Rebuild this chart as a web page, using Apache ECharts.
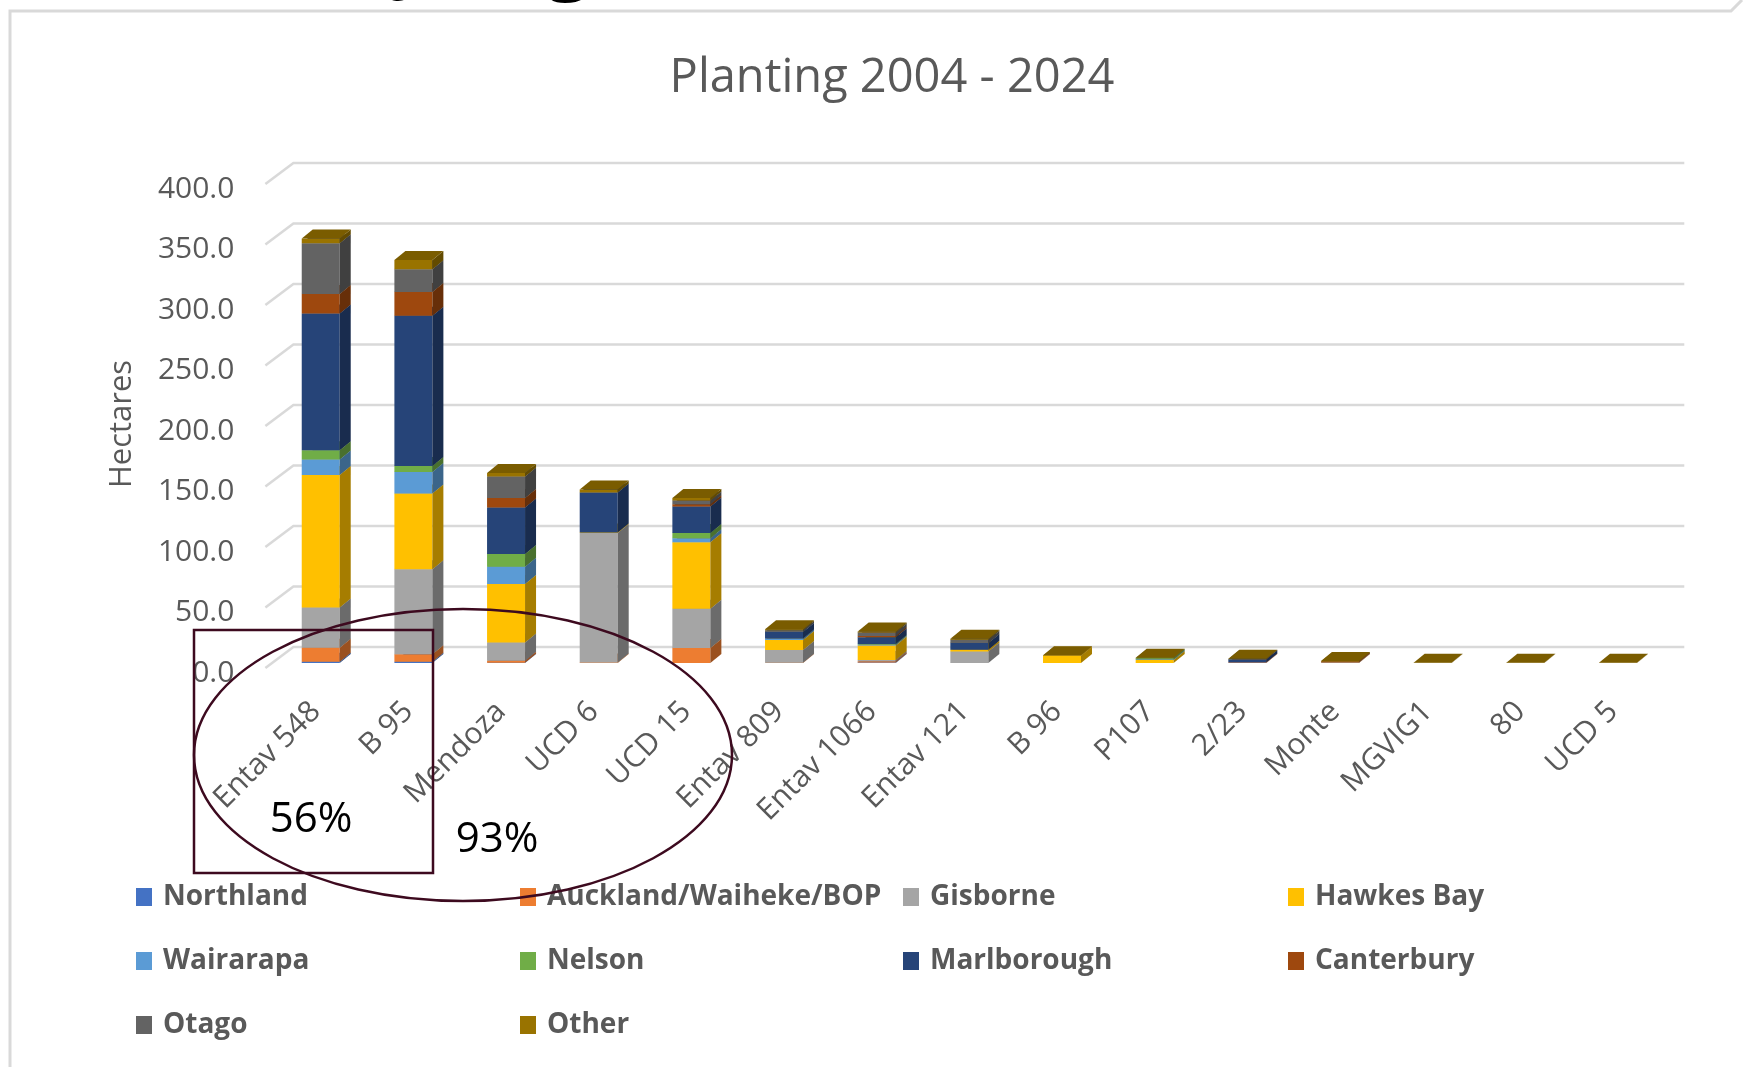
<!DOCTYPE html>
<html>
<head>
<meta charset="utf-8">
<title>Planting 2004 - 2024</title>
<script src="https://cdn.jsdelivr.net/npm/echarts@6/dist/echarts.min.js"></script>
<style>
  html, body { margin: 0; padding: 0; background: #ffffff; }
  #chart { width: 1749px; height: 1067px; }
</style>
</head>
<body>
<div id="chart"></div>
<script>
// Clones planted 2004 - 2024, hectares by region
const categories = ['Entav 548', 'B 95', 'Mendoza', 'UCD 6', 'UCD 15', 'Entav 809', 'Entav 1066',
  'Entav 121', 'B 96', 'P107', '2/23', 'Monte', 'MGVIG1', '80', 'UCD 5'];

const regionNames = ['Northland', 'Auckland/Waiheke/BOP', 'Gisborne', 'Hawkes Bay', 'Wairarapa',
  'Nelson', 'Marlborough', 'Canterbury', 'Otago', 'Other'];

const northland   = [1.0, 1.0, 0.3, 0, 0, 0, 0.5, 0, 0, 0, 0, 0, 0, 0, 0];
const auckland    = [11.6, 6.3, 1.5, 0.5, 12.4, 0.3, 1.0, 0, 0, 0, 0.5, 0.3, 0, 0, 0];
const gisborne    = [33.3, 70.2, 15.2, 106.9, 32.5, 10.5, 1.0, 9.6, 0, 0, 0, 0.3, 0, 0, 0];
const hawkesBay   = [109.4, 62.5, 48.2, 0.5, 54.8, 8.3, 12.0, 1.4, 6.0, 2.5, 0, 0, 0, 0, 0];
const wairarapa   = [12.9, 17.9, 14.3, 0, 3.3, 1.1, 0.8, 0, 0, 0.6, 0, 0, 0, 0, 0];
const nelson      = [7.7, 5.0, 10.5, 0, 4.4, 0, 0.5, 0, 0, 0.8, 0, 0, 0, 0, 0];
const marlborough = [113.0, 124.0, 38.6, 33.0, 22.0, 5.5, 5.5, 5.5, 0, 0, 2.5, 0, 0, 0, 0];
const canterbury  = [16.0, 19.8, 7.7, 0, 1.7, 0, 1.1, 0, 0, 0, 0, 0.6, 0, 0, 0];
const otago       = [41.9, 18.7, 17.9, 0, 3.3, 1.4, 2.8, 2.8, 0, 0, 0, 0, 0, 0, 0];
const other       = [4.0, 7.7, 2.8, 2.5, 1.9, 0.8, 0.8, 0.8, 0.5, 0.5, 0.5, 0.5, 0.3, 0.3, 0.3];

const yTicks = [0, 50, 100, 150, 200, 250, 300, 350, 400];

const regionValues = [northland, auckland, gisborne, hawkesBay, wairarapa,
  nelson, marlborough, canterbury, otago, other];

const regionColors = ['#4472C4', '#ED7D31', '#A5A5A5', '#FFC000', '#5B9BD5',
  '#70AD47', '#264478', '#9E480E', '#636363', '#997300'];

const TEXT = '#595959';
const FONT = '"Open Sans", "Noto Sans", sans-serif';

// pseudo-3D column geometry (pixels)
const DEPTH_X = 11, DEPTH_Y = -9;   // column depth
const FRONT_Y = -5;                 // column front face sits a little behind the floor edge
const WALL_X = 28, WALL_Y = -21;    // depth of the back wall

function shade(hex, k) {
  const n = parseInt(hex.slice(1), 16);
  const r = Math.round(((n >> 16) & 255) * k);
  const g = Math.round(((n >> 8) & 255) * k);
  const b = Math.round((n & 255) * k);
  return 'rgb(' + r + ',' + g + ',' + b + ')';
}

function columnRenderer(color) {
  const sideColor = shade(color, 0.65);
  const topColor = shade(color, 0.8);
  return function (params, api) {
    const idx = api.value(0);
    const base = api.value(1);
    const end = api.value(2);
    if (!(end > base)) return;
    const p0 = api.coord([idx, base]);
    const p1 = api.coord([idx, end]);
    const w = api.size([1, 0])[0] * 0.41;
    const xl = p0[0] - w / 2, xr = p0[0] + w / 2;
    const yb = p0[1] + FRONT_Y, yt = p1[1] + FRONT_Y;
    return {
      type: 'group',
      children: [
        { type: 'rect', shape: { x: xl, y: yt, width: w, height: yb - yt },
          style: { fill: color } },
        { type: 'polygon',
          shape: { points: [[xr, yb], [xr, yt], [xr + DEPTH_X, yt + DEPTH_Y], [xr + DEPTH_X, yb + DEPTH_Y]] },
          style: { fill: sideColor } },
        { type: 'polygon',
          shape: { points: [[xl, yt], [xr, yt], [xr + DEPTH_X, yt + DEPTH_Y], [xl + DEPTH_X, yt + DEPTH_Y]] },
          style: { fill: topColor } }
      ]
    };
  };
}

// stack the regions per clone
const running = categories.map(() => 0);
const columnSeries = regionNames.map((name, s) => {
  const data = categories.map((c, i) => {
    const base = running[i];
    running[i] += regionValues[s][i];
    return [i, base, running[i]];
  });
  return {
    name: name,
    type: 'custom',
    z: 3,
    itemStyle: { color: regionColors[s] },
    encode: { x: 0, y: [1, 2] },
    renderItem: columnRenderer(regionColors[s]),
    data: data
  };
});

// back-wall gridlines with the side-wall diagonal
const gridSeries = {
  type: 'custom',
  z: 1,
  silent: true,
  encode: { x: 0, y: 1 },
  renderItem: function (params, api) {
    const cs = params.coordSys;
    const y = api.coord([0, api.value(1)])[1];
    const xFront = cs.x - 9;
    const xEnd = cs.x + cs.width + 20;
    return {
      type: 'polyline',
      shape: { points: [[xFront, y], [xFront + WALL_X, y + WALL_Y], [xEnd, y + WALL_Y]] },
      style: { stroke: '#d9d9d9', lineWidth: 2.5, fill: null }
    };
  },
  data: yTicks.map(v => [0, v])
};

const legendColumns = [
  { left: 136, names: ['Northland', 'Wairarapa', 'Otago'] },
  { left: 520, names: ['Auckland/Waiheke/BOP', 'Nelson', 'Other'] },
  { left: 903, names: ['Gisborne', 'Marlborough'] },
  { left: 1288, names: ['Hawkes Bay', 'Canterbury'] }
];

const chart = echarts.init(document.getElementById('chart'), null, { renderer: 'canvas' });

chart.setOption({
  backgroundColor: '#ffffff',
  animation: false,
  title: {
    text: 'Planting 2004 - 2024',
    left: 887,
    top: 45,
    textAlign: 'center',
    textStyle: { fontFamily: FONT, fontSize: 47, fontWeight: 'normal', color: TEXT, lineHeight: 58 }
  },
  grid: { left: 274.4, right: 84.7, top: 184, bottom: 399, containLabel: false },
  xAxis: {
    type: 'category',
    data: categories,
    axisLine: { show: false },
    axisTick: { show: false },
    splitLine: { show: false },
    axisLabel: { interval: 0, rotate: 45, margin: 34, padding: [0, 7, 0, 0],
      fontFamily: FONT, fontSize: 30, color: TEXT }
  },
  yAxis: {
    type: 'value',
    min: yTicks[0],
    max: yTicks[yTicks.length - 1],
    interval: 50,
    axisLine: { show: false },
    axisTick: { show: false },
    splitLine: { show: false },
    axisLabel: { margin: 40, fontFamily: FONT, fontSize: 30, color: TEXT,
      verticalAlign: 'top', lineHeight: 10,
      formatter: v => v.toFixed(1) }
  },
  legend: legendColumns.map(col => ({
    orient: 'vertical',
    left: col.left,
    top: 877,
    padding: 0,
    itemWidth: 16,
    itemHeight: 18,
    itemGap: 24,
    icon: 'rect',
    selectedMode: false,
    data: col.names,
    textStyle: { fontFamily: FONT, fontSize: 28, fontWeight: 'bold', color: TEXT,
      lineHeight: 40, padding: [0, 0, 0, 6] }
  })),
  series: [gridSeries].concat(columnSeries),
  graphic: [
    // chart frame
    { type: 'polyline', z: 0, silent: true,
      shape: { points: [[10, 1067], [10, 11], [1731, 11], [1742, 0]] },
      style: { stroke: '#d9d9d9', lineWidth: 3, fill: null } },
    // bottoms of the slide heading above the chart
    { type: 'text', z: 10, silent: true, x: 398, y: -41,
      style: { text: 'y', font: 'italic bold 80px "Open Sans", sans-serif', fill: '#000000', verticalAlign: 'middle' } },
    { type: 'text', z: 10, silent: true, x: 546, y: -39,
      style: { text: 'g', font: 'bold 80px "Open Sans", sans-serif', fill: '#000000', verticalAlign: 'middle' } },
    // share call-outs
    { type: 'rect', z: 20, silent: true,
      shape: { x: 194, y: 630, width: 239, height: 243 },
      style: { stroke: '#3d0a1f', lineWidth: 2.5, fill: null } },
    { type: 'ellipse', z: 20, silent: true,
      shape: { cx: 463, cy: 755, rx: 269, ry: 146 },
      style: { stroke: '#3d0a1f', lineWidth: 2.5, fill: null } },
    { type: 'text', z: 20, silent: true, x: 311, y: 820,
      style: { text: '56%', font: '42px "Open Sans", sans-serif', fill: '#000000', align: 'center', verticalAlign: 'middle' } },
    { type: 'text', z: 20, silent: true, x: 497, y: 840,
      style: { text: '93%', font: '42px "Open Sans", sans-serif', fill: '#000000', align: 'center', verticalAlign: 'middle' } },
    // axis title
    { type: 'text', z: 10, silent: true, x: 122, y: 424, rotation: Math.PI / 2,
      style: { text: 'Hectares', font: '31px "Open Sans", sans-serif', fill: TEXT, align: 'center', verticalAlign: 'middle' } }
  ]
});
</script>
</body>
</html>
